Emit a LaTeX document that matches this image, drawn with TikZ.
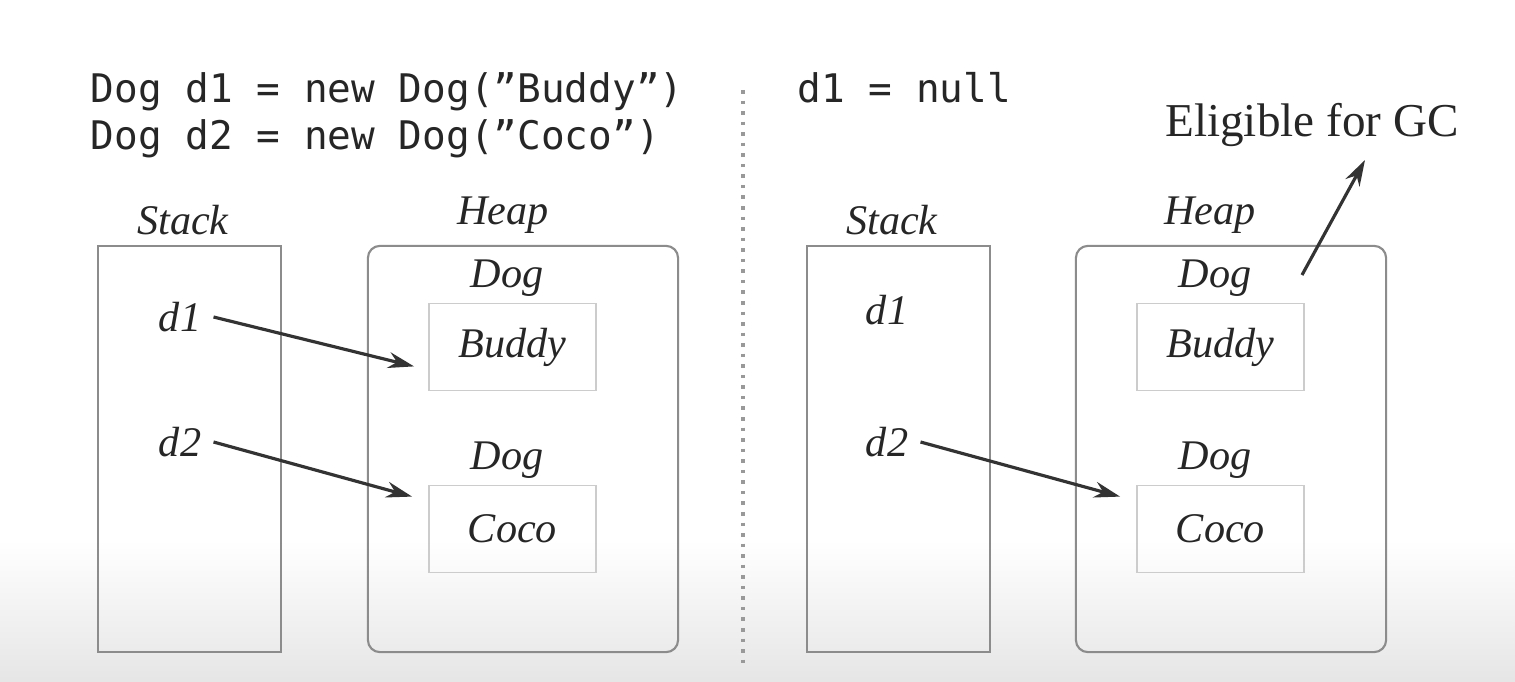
\documentclass[tikz,border=0pt]{standalone}
\usepackage{fontspec}
\setmainfont{Liberation Serif}
\setmonofont{DejaVu Sans Mono}
\usetikzlibrary{arrows.meta}
\begin{document}
\begin{tikzpicture}[x=0.01cm,y=-0.01cm,
				every node/.style={text=black!85,font=\itshape\fontsize{12}{14}\selectfont},
				code/.style={font=\ttfamily\fontsize{11.2}{13.4}\selectfont,anchor=west,inner sep=0},
				stackbox/.style={draw=black!45,line width=0.6pt,minimum width=1.83cm,minimum height=4.06cm,inner sep=0},
				heapbox/.style={draw=black!45,line width=0.6pt,rounded corners=0.12cm,minimum width=3.1cm,minimum height=4.06cm,inner sep=0},
				objbox/.style={draw=black!20,line width=0.5pt,minimum width=1.67cm,minimum height=0.87cm},
				ref/.style={-{Stealth[length=0.26cm,width=0.16cm]},line width=0.9pt,draw=black!80}]
\useasboundingbox (0,0) rectangle (1515,682);
\fill[white] (0,0) rectangle (1515,682);
\shade[top color=white,bottom color=black!10] (0,540) rectangle (1515,682);
% before
\node[code] (c1) at (90,92) {Dog d1 = new Dog(”Buddy”)};
\node[code] (c2) at (90,139) {Dog d2 = new Dog(”Coco”)};
\node (lstacklbl) at (183,220) {Stack};
\node[stackbox] (lstack) at (189.5,449) {};
\node (lheaplbl) at (503,215) {Heap};
\node[heapbox] (lheap) at (523,449) {};
\node (ldog1) at (507,278) {Dog};
\node[objbox] (lbuddy) at (512.5,347) {Buddy};
\node (ldog2) at (507,460) {Dog};
\node[objbox] (lcoco) at (512.5,529) {Coco};
\node (ld1) at (180,317) {d1};
\node (ld2) at (180,442) {d2};
\draw[ref] (ld1.east) -- ([xshift=-0.14cm,yshift=0.25cm]lbuddy.south west);
\draw[ref] (ld2.east) -- ([xshift=-0.16cm,yshift=-0.12cm]lcoco.north west);
% divider
\draw[dotted,black!40,line width=1pt] (743,90) -- (743,668);
% after
\node[code] (c3) at (797,88) {d1 = null};
\node[font=\fontsize{13.4}{16}\selectfont] (gc) at (1312,125) {Eligible for GC};
\node (rstacklbl) at (892,220) {Stack};
\node[stackbox] (rstack) at (898.5,449) {};
\node (rheaplbl) at (1210,215) {Heap};
\node[heapbox] (rheap) at (1231,449) {};
\node (rdog1) at (1215,278) {Dog};
\node[objbox] (rbuddy) at (1220.5,347) {Buddy};
\node (rdog2) at (1215,460) {Dog};
\node[objbox] (rcoco) at (1220.5,529) {Coco};
\node (rd1) at (887,310) {d1};
\node (rd2) at (887,442) {d2};
\draw[ref] (rd2.east) -- ([xshift=-0.16cm,yshift=-0.12cm]rcoco.north west);
\coordinate (gcfrom) at (1302,275);
\coordinate (gcto) at (1365,160);
\draw[ref] (gcfrom) -- (gcto);
\end{tikzpicture}
\end{document}
